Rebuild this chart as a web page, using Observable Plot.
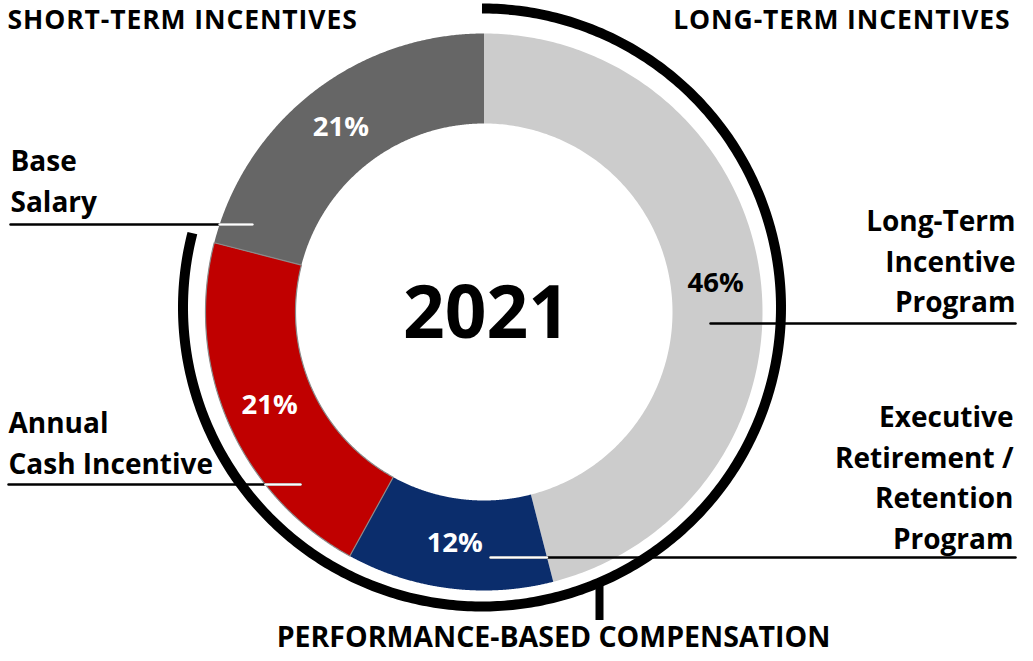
<!DOCTYPE html>
<html><head><meta charset="utf-8">
<script src="https://cdn.jsdelivr.net/npm/d3@7"></script>
<script src="https://cdn.jsdelivr.net/npm/@observablehq/plot@0.6"></script>
<style>html,body{margin:0;padding:0;background:#fff;} svg{display:block;overflow:visible;} .toptitle text{letter-spacing:0.9px;}</style>
</head><body><div id="chart"></div>
<script>
// ---------- data ----------
const categories = ["Long-Term Incentive Program", "Executive Retirement / Retention Program", "Annual Cash Incentive", "Base Salary"];
const values = [46, 12, 21, 21];
const valueLabels = ["46%", "12%", "21%", "21%"];
const labelLines = [["Long-Term", "Incentive", "Program"], ["Executive", "Retirement /", "Retention", "Program"], ["Annual", "Cash Incentive"], ["Base", "Salary"]];
const performanceBased = ["Long-Term Incentive Program", "Executive Retirement / Retention Program", "Annual Cash Incentive"];
const groupTitles = ["SHORT-TERM INCENTIVES", "LONG-TERM INCENTIVES", "PERFORMANCE-BASED COMPENSATION"];
const centerTitle = "2021";

// ---------- styles ----------
const sliceColors = ["#cccccc", "#0b2d6c", "#c00000", "#666666"];
const valueTextColors = ["#000000", "#ffffff", "#ffffff", "#ffffff"];
const FONT = "'Open Sans', sans-serif";

// ---------- layout (pixels) ----------
const W = 1033, H = 661;
const CX = 483.5, CY = 311.5, R = 278.5;      // donut centre / outer radius
const INNER = 188.5 / R;                       // inner radius (units)
const ARC = {cx: 481.5, cy: 307, r: 299, w: 10};
const TICK = {x: 599, y2: 620, w: 8};
// label blocks: anchor, x, first-line centre y
const labelLayout = [
  {anchor: "end", x: 1015, y: 222},
  {anchor: "end", x: 1013, y: 418},
  {anchor: "start", x: 8, y: 424},
  {anchor: "start", x: 10, y: 162}
];
const LINE_STEP = 40.5;
// leaders: y, inner end x, outer end x
const leaderLayout = [
  {y: 323, xi: 710, xo: 1015},
  {y: 557, xi: 490, xo: 1015},
  {y: 484, xi: 300, xo: 8},
  {y: 224, xi: 252, xo: 10}
];
const titleLayout = [
  {anchor: "start", x: 7, y: 20, size: 26.5, cls: "toptitle"},
  {anchor: "end", x: 1010, y: 20, size: 26.5, cls: "toptitle"},
  {anchor: "middle", x: 553, y: 637, size: 28.5, cls: "bottomtitle"}
];

const ux = px => (px - CX) / R;
const uy = py => (CY - py) / R;

// ---------- geometry from values ----------
const total = d3.sum(values);
let acc = 0;
const slices = categories.map((c, i) => {
  const a0 = acc / total * 2 * Math.PI;
  acc += values[i];
  const a1 = acc / total * 2 * Math.PI;
  return {cat: c, i, a0, a1};
});
const polar = (r, a, ox = 0, oy = 0) => [ox + r * Math.sin(a), oy + r * Math.cos(a)];

function slicePoints(s) {
  const N = 240, pts = [];
  for (let k = 0; k <= N; k++) {
    const a = s.a0 + (s.a1 - s.a0) * k / N;
    const [x, y] = polar(1, a); pts.push({x, y});
  }
  for (let k = N; k >= 0; k--) {
    const a = s.a0 + (s.a1 - s.a0) * k / N;
    const [x, y] = polar(INNER, a); pts.push({x, y});
  }
  return pts;
}

function inside(s, x, y) {
  const r = Math.hypot(x, y);
  let a = Math.atan2(x, y); if (a < 0) a += 2 * Math.PI;
  return r >= INNER && r <= 1 && a >= s.a0 && a <= s.a1;
}

// performance-based arc
const perfSum = d3.sum(categories.map((c, i) => performanceBased.includes(c) ? values[i] : 0));
const perfEnd = perfSum / total * 2 * Math.PI;
const arcPts = [];
{
  const N = 400, ox = ux(ARC.cx), oy = uy(ARC.cy), r = ARC.r / R;
  for (let k = 0; k <= N; k++) {
    const [x, y] = polar(r, perfEnd * k / N, ox, oy); arcPts.push({x, y});
  }
}
const tickX = ux(TICK.x);
const tickTop = uy(ARC.cy) - Math.sqrt((ARC.r / R) ** 2 - (tickX - ux(ARC.cx)) ** 2);

// value labels at slice centroids
const rLab = (1 + INNER) / 2;
const valueTexts = slices.map(s => {
  const [x, y] = polar(rLab, (s.a0 + s.a1) / 2);
  return {x, y, text: valueLabels[s.i], color: valueTextColors[s.i]};
});

// category labels
const catTexts = [];
labelLines.forEach((lines, i) => {
  const L = labelLayout[i];
  lines.forEach((t, k) => catTexts.push({x: ux(L.x), y: uy(L.y + k * LINE_STEP), text: t, anchor: L.anchor}));
});

// leaders
const blackLeaders = [], whiteLeaders = [];
leaderLayout.forEach((L, i) => {
  const y = uy(L.y), x0 = ux(L.xi), x1 = ux(L.xo);
  blackLeaders.push({x: x0, y, id: i}, {x: x1, y, id: i});
  if (valueTextColors[i] === "#ffffff") {
    const s = slices[i], dir = Math.sign(x1 - x0);
    let x = x0;
    while (inside(s, x + dir * 0.0005, y) && Math.abs(x - x0) < Math.abs(x1 - x0)) x += dir * 0.0005;
    whiteLeaders.push({x: x0, y, id: i}, {x, y, id: i});
  }
});

const marks = [];
slices.forEach(s => {
  marks.push(Plot.line(slicePoints(s), {x: "x", y: "y", fill: sliceColors[s.i], stroke: "none", curve: "linear-closed"}));
});
// thin grey outline on the red slice (as in the reference)
marks.push(Plot.line(slicePoints(slices[2]), {x: "x", y: "y", fill: "none", stroke: "#8a8a8a", strokeWidth: 1.2, curve: "linear-closed"}));
marks.push(Plot.line(arcPts, {x: "x", y: "y", stroke: "#000", strokeWidth: ARC.w, strokeLinecap: "butt"}));
marks.push(Plot.ruleX([tickX], {y1: tickTop, y2: uy(TICK.y2), stroke: "#000", strokeWidth: TICK.w}));
marks.push(Plot.line(blackLeaders, {x: "x", y: "y", z: "id", stroke: "#000", strokeWidth: 2.5}));
marks.push(Plot.line(whiteLeaders, {x: "x", y: "y", z: "id", stroke: "#fff", strokeWidth: 2.5}));
["#000000", "#ffffff"].forEach(c => {
  marks.push(Plot.text(valueTexts.filter(d => d.color === c), {x: "x", y: "y", text: "text", fill: c, fontSize: 27.5, fontWeight: 700, fontFamily: FONT, lineAnchor: "middle"}));
});
["start", "end"].forEach(a => {
  marks.push(Plot.text(catTexts.filter(d => d.anchor === a), {x: "x", y: "y", text: "text", textAnchor: a, fill: "#000", fontSize: 28, fontWeight: 700, fontFamily: FONT, lineAnchor: "middle"}));
});
groupTitles.forEach((t, i) => {
  const L = titleLayout[i];
  marks.push(Plot.text([t], {x: ux(L.x), y: uy(L.y), text: d => d, textAnchor: L.anchor, fill: "#000", fontSize: L.size, fontWeight: 700, fontFamily: FONT, lineAnchor: "middle", className: L.cls}));
});
marks.push(Plot.text([centerTitle], {x: ux(486), y: uy(314), text: d => d, fill: "#000", fontSize: 73, fontWeight: 700, fontFamily: FONT, lineAnchor: "middle"}));

const chart = Plot.plot({
  width: W, height: H, margin: 0,
  x: {domain: [ux(0), ux(W)], axis: null},
  y: {domain: [uy(H), uy(0)], axis: null},
  style: {background: "#fff", fontFamily: FONT},
  marks
});
document.getElementById("chart").appendChild(chart);
</script>
</body></html>
